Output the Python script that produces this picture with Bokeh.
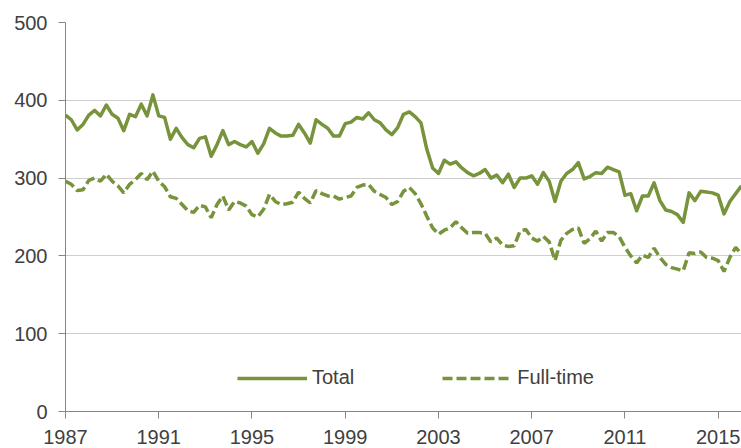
from bokeh.plotting import figure
from bokeh.models import Range1d, FixedTicker, Legend, LegendItem
from bokeh.embed import file_html
from bokeh.resources import INLINE

# Quarterly data, 1987 Q1 .. 2016 Q1
start_year = 1987
total = [381, 375, 362, 369, 381, 387, 380, 394, 382, 377, 361, 382, 379, 395, 380, 407, 380, 378, 350, 364,
         352, 343, 339, 351, 353, 328, 343, 361, 343, 347, 343, 340, 347, 332, 344, 364, 358, 354, 354, 355,
         369, 358, 345, 375, 369, 364, 354, 354, 370, 372, 378, 376, 384, 375, 371, 362, 356, 365, 382, 385,
         379, 371, 337, 313, 306, 323, 318, 321, 313, 307, 303, 306, 311, 300, 304, 294, 305, 288, 300, 300,
         303, 292, 307, 296, 270, 296, 306, 311, 320, 299, 302, 307, 306, 314, 311, 308, 278, 280, 258, 277,
         277, 294, 271, 259, 257, 253, 243, 281, 271, 283, 282, 281, 278, 254, 270, 280, 290]
full_time = [296, 292, 284, 285, 297, 300, 296, 305, 296, 290, 281, 292, 298, 306, 298, 309, 296, 289, 276, 274,
             266, 258, 256, 265, 263, 249, 266, 277, 259, 270, 268, 264, 253, 250, 260, 279, 270, 266, 267, 269,
             282, 274, 268, 284, 280, 277, 277, 273, 275, 277, 288, 291, 292, 283, 279, 275, 266, 270, 283, 288,
             280, 267, 251, 236, 228, 233, 236, 244, 236, 229, 230, 230, 229, 218, 223, 214, 212, 213, 232, 234,
             223, 219, 225, 218, 194, 220, 229, 234, 236, 216, 222, 232, 219, 230, 230, 225, 211, 200, 191, 201,
             198, 210, 198, 189, 185, 183, 181, 204, 203, 205, 198, 197, 194, 180, 198, 211, 202]
x_ticks = [1987, 1991, 1995, 1999, 2003, 2007, 2011, 2015]
y_ticks = [0, 100, 200, 300, 400, 500]
series_names = ["Total", "Full-time"]

quarters = [start_year + i / 4 for i in range(len(total))]

GREEN = "#77933C"
TEXT = "#404040"
AXIS = "#868686"
FONT = "Liberation Sans"

p = figure(width=741, height=448, output_backend="svg", toolbar_location=None,
           x_range=Range1d(start_year, quarters[-1]), y_range=Range1d(0, 500),
           min_border_left=65, min_border_right=0, min_border_top=22, min_border_bottom=37)
p.outline_line_color = None
p.background_fill_color = "white"

r1 = p.line(quarters, total, line_color=GREEN, line_width=3.5, line_join="round")
r2 = p.line(quarters, full_time, line_color=GREEN, line_width=3.5, line_dash="10 4")

p.xgrid.visible = False
p.ygrid.grid_line_color = "#cfcfcf"
p.ygrid.grid_line_width = 1

for ax in (p.xaxis[0], p.yaxis[0]):
    ax.axis_line_color = AXIS
    ax.major_tick_line_color = AXIS
    ax.minor_tick_line_color = None
    ax.major_tick_in = 0
    ax.major_tick_out = 7
    ax.major_label_text_font = FONT
    ax.major_label_text_font_size = "20px"
    ax.major_label_text_color = TEXT

p.xaxis.ticker = FixedTicker(ticks=x_ticks)
p.yaxis.ticker = FixedTicker(ticks=y_ticks)
p.xaxis.major_label_standoff = 11
p.yaxis.major_label_standoff = 11

legend = Legend(items=[LegendItem(label=series_names[0], renderers=[r1]),
                       LegendItem(label=series_names[1], renderers=[r2])],
                location=(172, 22), orientation="horizontal",
                glyph_width=70, glyph_height=20, label_standoff=5, spacing=88,
                padding=0, margin=0, label_height=20,
                label_text_font=FONT, label_text_font_size="20px", label_text_color=TEXT,
                background_fill_alpha=0, border_line_alpha=0)
p.add_layout(legend, "center")

open("out.html", "w").write(file_html(p, INLINE))
